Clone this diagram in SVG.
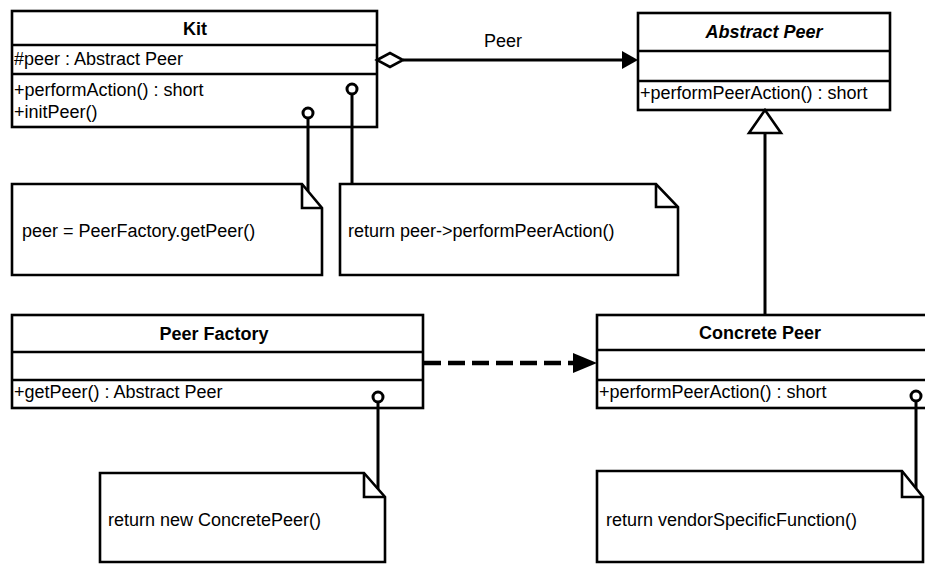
<svg xmlns="http://www.w3.org/2000/svg" width="925" height="566" viewBox="0 0 925 566">
  <style>
    .box { fill: #fff; stroke: #000; stroke-width: 2.6; }
    .sep { stroke: #000; stroke-width: 2.6; fill: none; }
    .note { fill: #fff; stroke: #000; stroke-width: 2.6; stroke-linejoin: miter; }
    .fold { fill: none; stroke: #000; stroke-width: 2.6; }
    .t { font-family: "Liberation Sans", Arial, Helvetica, sans-serif; font-size: 18px; fill: #000; }
    .title { font-weight: bold; text-anchor: middle; }
    .abstract { font-style: italic; }
    .link { stroke: #000; stroke-width: 3; fill: none; }
    .dash { stroke: #000; stroke-width: 4.5; fill: none; stroke-dasharray: 17 7; }
    .lolli { fill: #fff; stroke: #000; stroke-width: 3; }
  </style>

  <!-- Kit -->
  <g id="kit">
    <rect class="box" x="12" y="11" width="365" height="116"/>
    <line class="sep" x1="12" y1="45" x2="377" y2="45"/>
    <line class="sep" x1="12" y1="74" x2="377" y2="74"/>
    <text class="t title" x="195" y="35">Kit</text>
    <text class="t" x="14" y="65">#peer : Abstract Peer</text>
    <text class="t" x="14" y="96">+performAction() : short</text>
    <text class="t" x="14" y="118">+initPeer()</text>
  </g>

  <!-- Abstract Peer -->
  <g id="abstract-peer">
    <rect class="box" x="638" y="13" width="252" height="97"/>
    <line class="sep" x1="638" y1="51" x2="890" y2="51"/>
    <line class="sep" x1="638" y1="81" x2="890" y2="81"/>
    <text class="t title abstract" x="764" y="38">Abstract Peer</text>
    <text class="t" x="640" y="99">+performPeerAction() : short</text>
  </g>

  <!-- Note: initPeer body -->
  <g id="note-init-peer">
    <path class="note" d="M12,184 H302 L322,208 V275 H12 Z"/>
    <path class="fold" d="M302,184 V208 H322"/>
    <text class="t" x="22" y="237">peer = PeerFactory.getPeer()</text>
  </g>

  <!-- Note: performAction body -->
  <g id="note-perform-action">
    <path class="note" d="M340,184 H656 L678,207 V275 H340 Z"/>
    <path class="fold" d="M656,184 V207 H678"/>
    <text class="t" x="348" y="237">return peer-&gt;performPeerAction()</text>
  </g>

  <!-- Peer Factory -->
  <g id="peer-factory">
    <rect class="box" x="12" y="315" width="411" height="93"/>
    <line class="sep" x1="12" y1="352" x2="423" y2="352"/>
    <line class="sep" x1="12" y1="380" x2="423" y2="380"/>
    <text class="t title" x="214" y="340">Peer Factory</text>
    <text class="t" x="14" y="398">+getPeer() : Abstract Peer</text>
  </g>

  <!-- Concrete Peer -->
  <g id="concrete-peer">
    <rect class="box" x="597" y="315" width="332" height="93"/>
    <line class="sep" x1="597" y1="350" x2="929" y2="350"/>
    <line class="sep" x1="597" y1="380" x2="929" y2="380"/>
    <text class="t title" x="760" y="339">Concrete Peer</text>
    <text class="t" x="599" y="398">+performPeerAction() : short</text>
  </g>

  <!-- Note: getPeer body -->
  <g id="note-get-peer">
    <path class="note" d="M100,473 H364 L385,497 V562 H100 Z"/>
    <path class="fold" d="M364,473 V497 H385"/>
    <text class="t" x="108" y="526">return new ConcretePeer()</text>
  </g>

  <!-- Note: performPeerAction body -->
  <g id="note-vendor">
    <path class="note" d="M597,471 H902 L923,497 V562 H597 Z"/>
    <path class="fold" d="M902,471 V497 H923"/>
    <text class="t" x="606" y="526">return vendorSpecificFunction()</text>
  </g>

  <!-- Connectors (drawn last so the note anchors show over the class boxes) -->
  <g id="connectors">
    <!-- Kit aggregates Abstract Peer -->
    <line class="link" x1="403" y1="60" x2="624" y2="60"/>
    <polygon points="377,60 390,53 403,60 390,67" fill="#fff" stroke="#000" stroke-width="2.6"/>
    <polygon points="638,60 622,51 622,69" fill="#000"/>
    <text class="t" x="503" y="47" text-anchor="middle">Peer</text>

    <!-- Concrete Peer generalizes Abstract Peer -->
    <line class="link" x1="765" y1="133" x2="765" y2="315"/>
    <polygon points="765,110 749,133 781,133" fill="#fff" stroke="#000" stroke-width="2.6"/>

    <!-- Peer Factory depends on Concrete Peer -->
    <line class="dash" x1="424" y1="363" x2="574" y2="363"/>
    <polygon points="597,363 573,353 573,373" fill="#000"/>

    <!-- note anchors: stem from the operation's lollipop to its note -->
    <line class="link" x1="308" y1="118" x2="308" y2="191"/>
    <circle class="lolli" cx="308" cy="113" r="5"/>
    <line class="link" x1="352" y1="94" x2="352" y2="184"/>
    <circle class="lolli" cx="352" cy="89" r="5"/>
    <line class="link" x1="378" y1="402" x2="378" y2="489"/>
    <circle class="lolli" cx="378" cy="397" r="5"/>
    <line class="link" x1="916" y1="401" x2="916" y2="488"/>
    <circle class="lolli" cx="916" cy="396" r="5"/>
  </g>
</svg>
